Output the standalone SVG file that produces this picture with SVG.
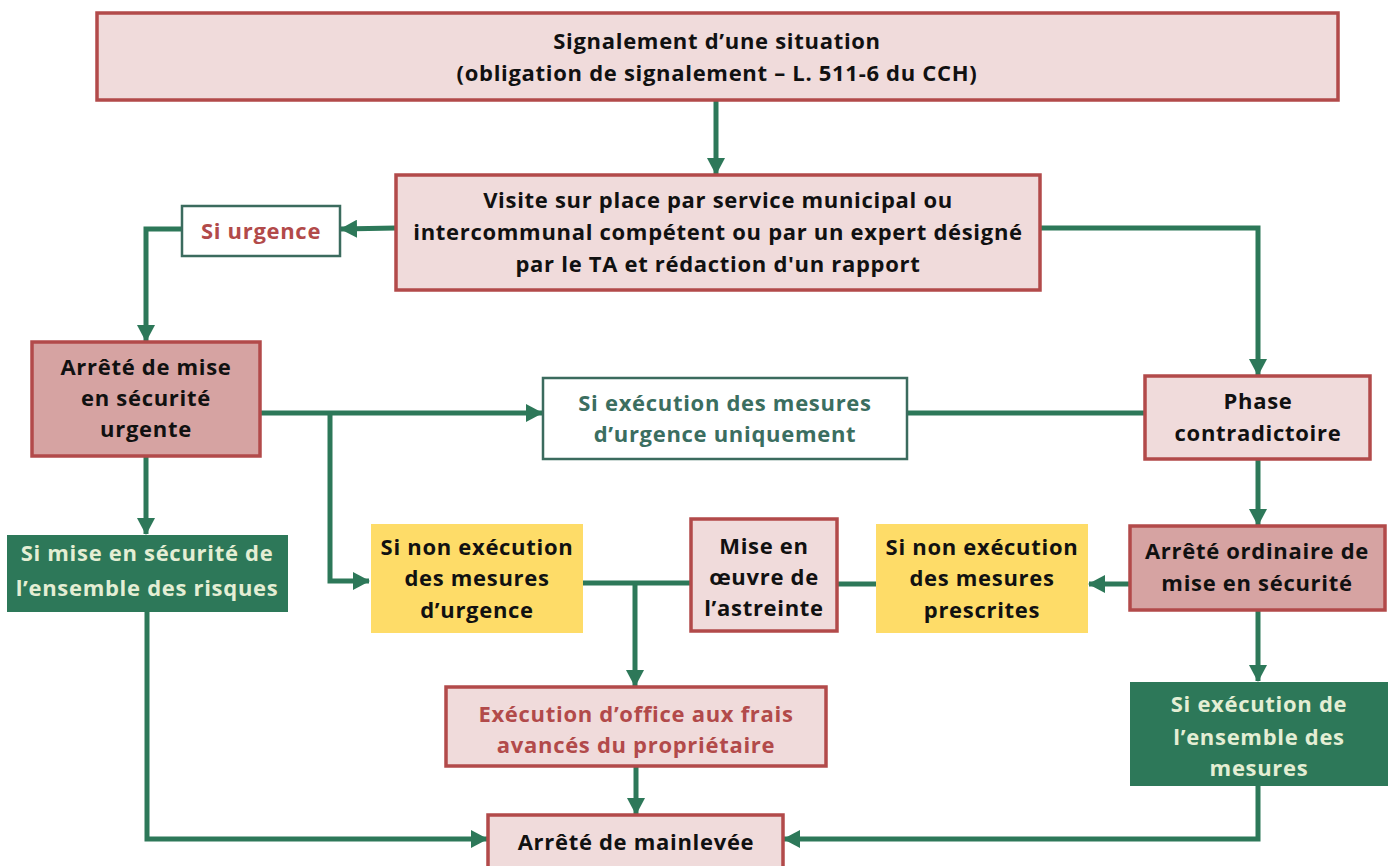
<svg xmlns="http://www.w3.org/2000/svg" width="1397" height="866" viewBox="0 0 1397 866">
<style>
text{font-family:"Open Sans","Liberation Sans",sans-serif;font-weight:bold;font-size:22px;letter-spacing:0.7px;text-anchor:middle;fill:#111}
.pale{fill:#f0dbdb;stroke:#b24a4a;stroke-width:3.5}
.dark{fill:#d6a3a2;stroke:#b24a4a;stroke-width:3.5}
.out{fill:#fff;stroke:#3b6b5e;stroke-width:2.5}
.yel{fill:#fedc68}
.grn{fill:#2d7859}
.red{fill:#b24a4a}
.teal{fill:#3b6e60}
.lite{fill:#e4eed4}
.c{fill:none;stroke:#2d7859;stroke-width:5}
</style>
<defs>
<marker id="ah" markerUnits="userSpaceOnUse" markerWidth="18" markerHeight="18" refX="16" refY="9" orient="auto">
<path d="M0,0 L17,9 L0,18 Z" fill="#2d7859"/>
</marker>
</defs>
<rect width="1397" height="866" fill="#fff"/>
<g id="connectors">
<path class="c" d="M716,100 V174" marker-end="url(#ah)"/>
<path class="c" d="M396,228 L341,229" marker-end="url(#ah)"/>
<path class="c" d="M182,229 H146 V341" marker-end="url(#ah)"/>
<path class="c" d="M1040,228 H1258 V375" marker-end="url(#ah)"/>
<path class="c" d="M260,413 H542" marker-end="url(#ah)"/>
<path class="c" d="M330,413 V581 H369" marker-end="url(#ah)"/>
<path class="c" d="M907,413 H1145"/>
<path class="c" d="M1258,459 V525" marker-end="url(#ah)"/>
<path class="c" d="M1130,584 H1089" marker-end="url(#ah)"/>
<path class="c" d="M876,584 H837"/>
<path class="c" d="M691,583 H583"/>
<path class="c" d="M635,583 V686" marker-end="url(#ah)"/>
<path class="c" d="M146,456 V534" marker-end="url(#ah)"/>
<path class="c" d="M636,766 V814" marker-end="url(#ah)"/>
<path class="c" d="M147,612 V839 H487" marker-end="url(#ah)"/>
<path class="c" d="M1258,610 V681" marker-end="url(#ah)"/>
<path class="c" d="M1258,786 V839 H784" marker-end="url(#ah)"/>
</g>
<g id="signalement">
<rect class="pale" x="97" y="13" width="1241" height="87"/>
<text x="717" y="49">Signalement d’une situation</text>
<text x="717" y="81">(obligation de signalement – L. 511-6 du CCH)</text>
</g>
<g id="visite">
<rect class="pale" x="396" y="175" width="644" height="115"/>
<text x="718" y="208">Visite sur place par service municipal ou</text>
<text x="718" y="240">intercommunal compétent ou par un expert désigné</text>
<text x="718" y="272">par le TA et rédaction d'un rapport</text>
</g>
<g id="si-urgence">
<rect class="out" x="182" y="206" width="158" height="50"/>
<text class="red" x="261" y="239">Si urgence</text>
</g>
<g id="arrete-urgent">
<rect class="dark" x="32" y="342" width="228" height="114"/>
<text x="146" y="375">Arrêté de mise</text>
<text x="146" y="406">en sécurité</text>
<text x="146" y="437">urgente</text>
</g>
<g id="si-execution-urgence">
<rect class="out" x="543" y="378" width="364" height="81"/>
<text class="teal" x="725" y="411">Si exécution des mesures</text>
<text class="teal" x="725" y="442">d’urgence uniquement</text>
</g>
<g id="phase">
<rect class="pale" x="1145" y="376" width="225" height="83"/>
<text x="1258" y="409">Phase</text>
<text x="1258" y="441">contradictoire</text>
</g>
<g id="arrete-ordinaire">
<rect class="dark" x="1130" y="526" width="255" height="84"/>
<text x="1257" y="559">Arrêté ordinaire de</text>
<text x="1257" y="591">mise en sécurité</text>
</g>
<g id="non-exec-prescrites">
<rect class="yel" x="876" y="524" width="212" height="109"/>
<text x="982" y="555">Si non exécution</text>
<text x="982" y="586">des mesures</text>
<text x="982" y="618">prescrites</text>
</g>
<g id="astreinte">
<rect class="pale" x="691" y="519" width="146" height="112"/>
<text x="764" y="554">Mise en</text>
<text x="764" y="585">œuvre de</text>
<text x="764" y="616">l’astreinte</text>
</g>
<g id="non-exec-urgence">
<rect class="yel" x="371" y="524" width="212" height="109"/>
<text x="477" y="555">Si non exécution</text>
<text x="477" y="586">des mesures</text>
<text x="477" y="618">d’urgence</text>
</g>
<g id="si-mise-ensemble">
<rect class="grn" x="7" y="535" width="281" height="77"/>
<text class="lite" x="147" y="561">Si mise en sécurité de</text>
<text class="lite" x="147" y="596">l’ensemble des risques</text>
</g>
<g id="execution-office">
<rect class="pale" x="446" y="687" width="380" height="79"/>
<text class="red" x="636" y="722">Exécution d’office aux frais</text>
<text class="red" x="636" y="753">avancés du propriétaire</text>
</g>
<g id="si-execution-ensemble">
<rect class="grn" x="1130" y="682" width="258" height="104"/>
<text class="lite" x="1259" y="712">Si exécution de</text>
<text class="lite" x="1259" y="745">l’ensemble des</text>
<text class="lite" x="1259" y="776">mesures</text>
</g>
<g id="mainlevee">
<rect class="pale" x="488" y="815" width="295" height="60"/>
<text x="636" y="850">Arrêté de mainlevée</text>
</g>
</svg>
